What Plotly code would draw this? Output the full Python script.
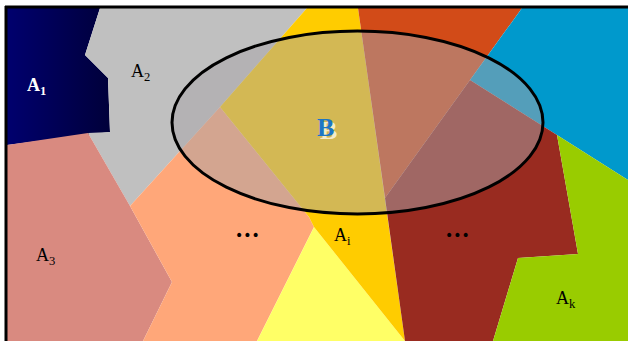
import plotly.graph_objects as go

# Region polygons (picture coordinates: x right, y down)
A1_x = [7, 100, 85, 108, 110, 7]
A1_y = [8, 8, 55, 78, 132, 145]
A2_x = [100, 307, 220, 130, 88, 110, 108, 85]
A2_y = [8, 8, 107, 206, 133, 132, 78, 55]
A3_x = [7, 88, 130, 172, 143, 7]
A3_y = [145, 133, 206, 282, 341, 341]
D1_x = [220, 309, 314, 257, 143, 172, 130]
D1_y = [107, 217, 227, 341, 341, 282, 206]
Y_x = [314, 405, 257]
Y_y = [227, 341, 341]
Ai_x = [307, 358, 405, 314, 309, 220]
Ai_y = [8, 8, 341, 227, 217, 107]
R_x = [358, 522, 470, 385]
R_y = [8, 8, 80, 198]
Bl_x = [522, 628, 628, 557, 470]
Bl_y = [8, 8, 180, 135, 80]
D2_x = [470, 557, 578, 518, 493, 405, 385]
D2_y = [80, 135, 254, 258, 341, 341, 198]
Ak_x = [557, 628, 628, 493, 518, 578]
Ak_y = [135, 180, 341, 341, 258, 254]

B_box = [172, 543, 31, 214]  # ellipse x0, x1, y0, y1

labels = ["<b>A<sub>1</sub></b>", "A<sub>2</sub>", "A<sub>3</sub>", "•••", "A<sub>i</sub>", "•••", "A<sub>k</sub>"]
label_x = [36, 140, 45, 247, 342, 457, 566]
label_y = [86, 72, 256, 235, 236, 235, 299]
label_col = ["white", "black", "black", "black", "black", "black", "black"]

fig = go.Figure()

def poly(xs, ys, color, **kw):
    fig.add_trace(go.Scatter(x=xs + [xs[0]], y=ys + [ys[0]], fill="toself", mode="lines",
                             line=dict(width=0, color=color), fillcolor=color,
                             hoverinfo="skip", showlegend=False, **kw))

poly(A1_x, A1_y, "#000066",
     fillgradient=dict(type="horizontal", colorscale=[[0, "#00006E"], [1, "#00003A"]]))
poly(A2_x, A2_y, "#C0C0C0")
poly(A3_x, A3_y, "#D98A80")
poly(D1_x, D1_y, "#FFA779")
poly(Y_x, Y_y, "#FFFF66")
poly(Ai_x, Ai_y, "#FFCC00")
poly(R_x, R_y, "#D24B18")
poly(Bl_x, Bl_y, "#0099CC")
poly(D2_x, D2_y, "#992B20")
poly(Ak_x, Ak_y, "#99CC00")

fig.add_shape(type="circle", xref="x", yref="y", x0=B_box[0], x1=B_box[1], y0=B_box[2], y1=B_box[3],
              fillcolor="rgba(168,163,168,0.5)", line=dict(color="black", width=3))

# frame lines
fig.add_shape(type="line", xref="x", yref="y", x0=5, x1=628, y0=7, y1=7, line=dict(color="black", width=3))
fig.add_shape(type="line", xref="x", yref="y", x0=6, x1=6, y0=6, y1=341, line=dict(color="black", width=3))

for t, x, y, c in zip(labels, label_x, label_y, label_col):
    if t == "•••":
        font = dict(family="DejaVu Sans", size=14, color=c)
    else:
        font = dict(family="Liberation Serif", size=18, color=c)
    fig.add_annotation(x=x, y=y, text=t, showarrow=False, xref="x", yref="y", font=font)

fig.add_annotation(x=328, y=130, text="<b>B</b>", showarrow=False, xref="x", yref="y",
                   font=dict(family="Liberation Serif", size=26, color="rgba(250,245,225,0.85)"))
fig.add_annotation(x=325, y=127, text="<b>B</b>", showarrow=False, xref="x", yref="y",
                   font=dict(family="Liberation Serif", size=26, color="#1C76C4"))

fig.update_xaxes(range=[0, 628], visible=False, fixedrange=True)
fig.update_yaxes(range=[341, 0], visible=False, fixedrange=True)
fig.update_layout(width=628, height=341, margin=dict(l=0, r=0, t=0, b=0),
                  paper_bgcolor="white", plot_bgcolor="white")

fig.write_html("out.html", config={"staticPlot": True},
               post_script="document.body.style.margin='0';document.body.style.overflow='hidden';")
